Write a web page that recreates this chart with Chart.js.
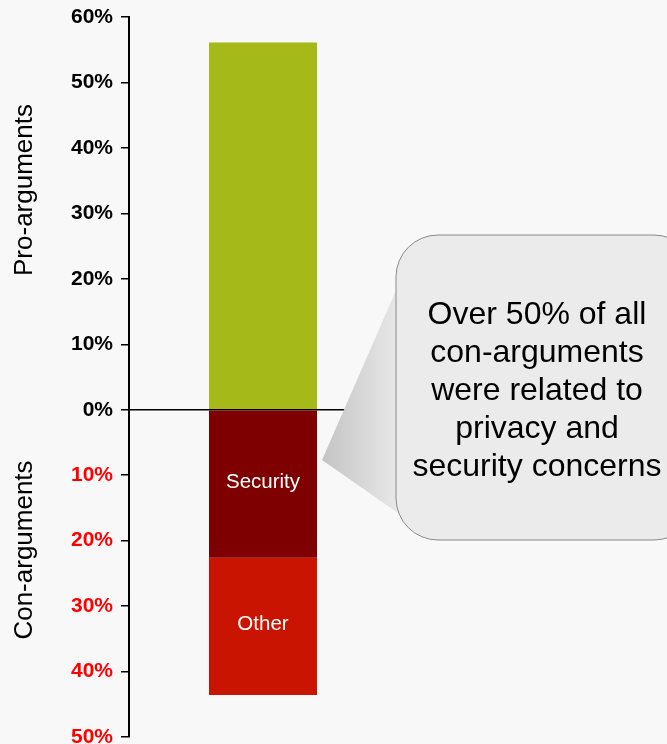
<!DOCTYPE html>
<html>
<head>
<meta charset="utf-8">
<script src="https://cdn.jsdelivr.net/npm/chart.js@4"></script>
<style>
  html, body { margin: 0; padding: 0; background: #f8f8f8; }
  #wrap { width: 667px; height: 744px; }
</style>
</head>
<body>
<div id="wrap"><canvas id="argChart" width="667" height="744"></canvas></div>
<script>
// chart data
const categories = ["Arguments"];
const seriesNames = ["Pro-arguments", "Security", "Other"];
const proValues = [56.1];
const securityValues = [-22.6];
const otherValues = [-21.0];
const axisTitles = ["Pro-arguments", "Con-arguments"];
const calloutLines = ["Over 50% of all", "con-arguments", "were related to", "privacy and", "security concerns"];

const FONT = "'Liberation Sans', Arial, sans-serif";

const barLabels = {
  id: 'barLabels',
  afterDatasetsDraw(chart) {
    const { ctx } = chart;
    ctx.save();
    ctx.fillStyle = '#ffffff';
    ctx.font = `20.5px ${FONT}`;
    ctx.textAlign = 'center';
    ctx.textBaseline = 'middle';
    [1, 2].forEach(i => {
      const bar = chart.getDatasetMeta(i).data[0];
      if (!bar) return;
      ctx.fillText(chart.data.datasets[i].label, bar.x, (bar.y + bar.base) / 2 - 2);
    });
    ctx.restore();
  }
};

const sideTitles = {
  id: 'sideTitles',
  afterDraw(chart) {
    const { ctx } = chart;
    ctx.save();
    ctx.fillStyle = '#000';
    ctx.font = `26px ${FONT}`;
    ctx.textAlign = 'center';
    ctx.textBaseline = 'middle';
    [[axisTitles[0], 190], [axisTitles[1], 550]].forEach(([txt, cy]) => {
      ctx.save();
      ctx.translate(25, cy);
      ctx.rotate(-Math.PI / 2);
      ctx.fillText(txt, 0, 0);
      ctx.restore();
    });
    ctx.restore();
  }
};

const callout = {
  id: 'callout',
  afterDraw(chart) {
    const { ctx } = chart;
    ctx.save();
    // pointer wedge
    const grad = ctx.createLinearGradient(322, 0, 405, 0);
    grad.addColorStop(0, '#c4c4c4');
    grad.addColorStop(1, '#ebebeb');
    ctx.fillStyle = grad;
    ctx.beginPath();
    ctx.moveTo(322, 460);
    ctx.lineTo(398, 286);
    ctx.lineTo(408, 520);
    ctx.closePath();
    ctx.fill();
    // box
    const x = 396, y = 235, w = 300, h = 305, r = 42;
    ctx.beginPath();
    ctx.moveTo(x + r, y);
    ctx.lineTo(x + w - r, y);
    ctx.arcTo(x + w, y, x + w, y + r, r);
    ctx.lineTo(x + w, y + h - r);
    ctx.arcTo(x + w, y + h, x + w - r, y + h, r);
    ctx.lineTo(x + r, y + h);
    ctx.arcTo(x, y + h, x, y + h - r, r);
    ctx.lineTo(x, y + r);
    ctx.arcTo(x, y, x + r, y, r);
    ctx.closePath();
    ctx.fillStyle = '#ebebeb';
    ctx.fill();
    ctx.strokeStyle = '#8a8a8a';
    ctx.lineWidth = 1;
    ctx.stroke();
    // text
    ctx.fillStyle = '#000';
    ctx.font = `32px ${FONT}`;
    ctx.textAlign = 'center';
    ctx.textBaseline = 'middle';
    calloutLines.forEach((line, i) => {
      ctx.fillText(line, 537, 315 + i * 38);
    });
    ctx.restore();
  }
};

const bgFill = {
  id: 'bgFill',
  beforeDraw(chart) {
    const { ctx, width, height } = chart;
    ctx.save();
    ctx.fillStyle = '#f8f8f8';
    ctx.fillRect(0, 0, width, height);
    ctx.restore();
  }
};

new Chart(document.getElementById('argChart').getContext('2d'), {
  type: 'bar',
  data: {
    labels: categories,
    datasets: [
      { label: seriesNames[0], data: proValues, backgroundColor: '#a5b919' },
      { label: seriesNames[1], data: securityValues, backgroundColor: '#7f0000' },
      { label: seriesNames[2], data: otherValues, backgroundColor: '#c81400' }
    ]
  },
  plugins: [bgFill, barLabels, sideTitles, callout],
  options: {
    responsive: false,
    animation: false,
    events: [],
    layout: { padding: { top: 17, right: 270, bottom: 7, left: 0 } },
    datasets: {
      bar: { categoryPercentage: 1, barPercentage: 0.403 }
    },
    plugins: {
      legend: { display: false },
      tooltip: { enabled: false }
    },
    scales: {
      x: { display: false, stacked: true },
      y: {
        stacked: true,
        min: -50,
        max: 60,
        afterFit(scale) {
          scale.width = 129;
          scale.paddingTop = 0;
          scale.paddingBottom = 0;
        },
        border: { display: true, color: '#000', width: 2 },
        grid: {
          drawOnChartArea: true,
          drawTicks: true,
          tickLength: 8,
          tickColor: '#000',
          lineWidth: 1.5,
          color: ctx => (ctx.tick && ctx.tick.value === 0 ? '#000' : 'rgba(0,0,0,0)')
        },
        ticks: {
          stepSize: 10,
          padding: 8,
          font: { family: FONT, size: 21, weight: 'bold' },
          color: ctx => (ctx.tick && ctx.tick.value < 0 ? '#ff0000' : '#000'),
          callback: v => `${Math.abs(v)}%`
        }
      }
    }
  }
});
</script>
</body>
</html>
